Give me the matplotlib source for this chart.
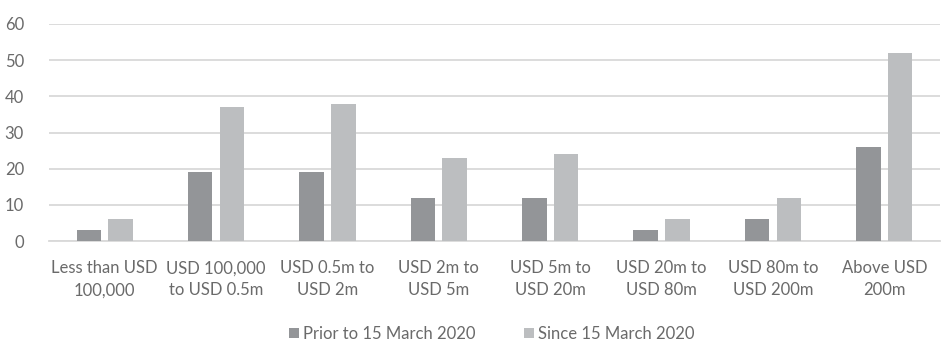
import matplotlib
matplotlib.use("Agg")
import matplotlib.pyplot as plt
import numpy as np

categories = ["Less than USD\n100,000", "USD 100,000\nto USD 0.5m", "USD 0.5m to\nUSD 2m",
              "USD 2m to\nUSD 5m", "USD 5m to\nUSD 20m", "USD 20m to\nUSD 80m",
              "USD 80m to\nUSD 200m", "Above USD\n200m"]
prior = [3, 19, 19, 12, 12, 3, 6, 26]
since = [6, 37, 38, 23, 24, 6, 12, 52]
series_names = ["Prior to 15 March 2020", "Since 15 March 2020"]
yticks = [0, 10, 20, 30, 40, 50, 60]

plt.rcParams['font.family'] = ['Lato', 'DejaVu Sans']
text_col = "#6a6a6a"
fs = 12

fig = plt.figure(figsize=(9.44, 3.43), dpi=100)
ax = fig.add_axes([49/944, 1 - 241/343, (940 - 49)/944, (241 - 24)/343])

x = np.arange(len(categories))
w = 0.22
off = 0.143
ax.bar(x - off, prior, w, color="#939598", label=series_names[0], zorder=3)
ax.bar(x + off, since, w, color="#bcbec0", label=series_names[1], zorder=3)

ax.set_xlim(-0.5, len(categories) - 0.5)
ax.set_ylim(0, 60)
ax.set_yticks(yticks)
ax.yaxis.grid(True, color="#d9d9d9", linewidth=1.3, zorder=0)
ax.set_axisbelow(True)
for s in ["top", "right", "left"]:
    ax.spines[s].set_visible(False)
ax.spines["bottom"].set_color("#d9d9d9")
ax.spines["bottom"].set_linewidth(1.3)
ax.tick_params(axis="both", length=0, labelsize=fs, labelcolor=text_col)
ax.tick_params(axis="y", pad=18)
ax.tick_params(axis="x", pad=14)
ax.set_xticks(x)
ax.set_xticklabels(categories, linespacing=1.45)

leg = fig.legend(loc="center", bbox_to_anchor=(492/944, 1 - 334/343), ncol=2, frameon=False,
                 fontsize=fs, handlelength=0.6, handleheight=0.6, handletextpad=0.25,
                 columnspacing=2.9)
for t in leg.get_texts():
    t.set_color(text_col)

fig.savefig("out.png", dpi=100)
